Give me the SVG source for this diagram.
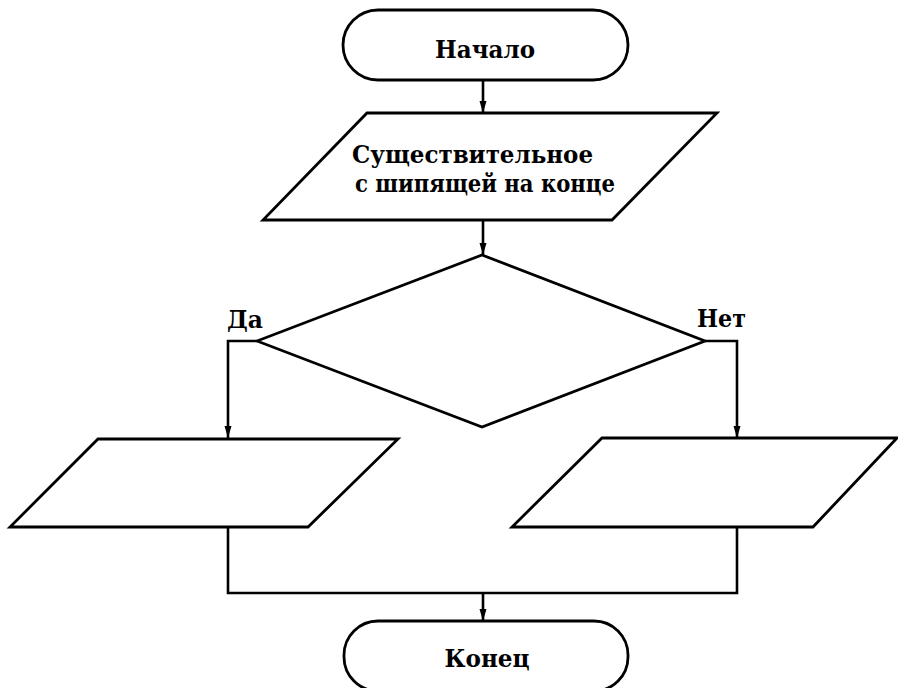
<svg xmlns="http://www.w3.org/2000/svg" width="898" height="688" viewBox="0 0 898 688">
<defs>
<style>
.s{fill:#fff;stroke:#000;stroke-width:2.8;stroke-linejoin:miter}
.c{fill:none;stroke:#000;stroke-width:2.6}
.t{font-family:"DejaVu Serif","Liberation Serif",serif;font-weight:bold;font-size:24px;fill:#000}
</style>
<marker id="a" viewBox="0 0 12 8" refX="12" refY="4" markerWidth="12" markerHeight="8" markerUnits="userSpaceOnUse" orient="auto">
<path d="M0,0.5 L12,4 L0,7.5 Z" fill="#000"/>
</marker>
</defs>
<rect width="898" height="688" fill="#fff"/>
<g id="connectors">
<line class="c" x1="483" y1="80" x2="483" y2="113" marker-end="url(#a)"/>
<line class="c" x1="483" y1="220" x2="483" y2="255" marker-end="url(#a)"/>
<polyline class="c" points="257,341 228,341 228,438" marker-end="url(#a)"/>
<polyline class="c" points="705,341 737,341 737,438" marker-end="url(#a)"/>
<polyline class="c" points="228,527 228,593 737,593 737,527"/>
<line class="c" x1="483" y1="593" x2="483" y2="621" marker-end="url(#a)"/>
</g>
<g id="start">
<rect class="s" x="343" y="10" width="285" height="70" rx="35" ry="35"/>
<text class="t" x="485" y="58" text-anchor="middle" textLength="100" lengthAdjust="spacingAndGlyphs">Начало</text>
</g>
<g id="input">
<polygon class="s" points="367,113 717,113 612,220 263,220"/>
<text class="t" x="352" y="163" textLength="241" lengthAdjust="spacingAndGlyphs">Существительное</text>
<text class="t" x="355" y="192" textLength="260" lengthAdjust="spacingAndGlyphs">с шипящей на конце</text>
</g>
<g id="decision">
<polygon class="s" points="482,255 705,341 482,427 257,341"/>
</g>
<g id="yes-label"><text class="t" x="227" y="328" textLength="36" lengthAdjust="spacingAndGlyphs">Да</text></g>
<g id="no-label"><text class="t" x="697" y="327" textLength="49" lengthAdjust="spacingAndGlyphs">Нет</text></g>
<g id="out-yes">
<polygon class="s" points="98,439 398,439 308,527 10,527"/>
</g>
<g id="out-no">
<polygon class="s" points="602,438 897,438 813,527 512,527"/>
</g>
<g id="end">
<rect class="s" x="344" y="621" width="284" height="70" rx="34" ry="34"/>
<text class="t" x="487" y="667" text-anchor="middle" textLength="85" lengthAdjust="spacingAndGlyphs">Конец</text>
</g>
</svg>
